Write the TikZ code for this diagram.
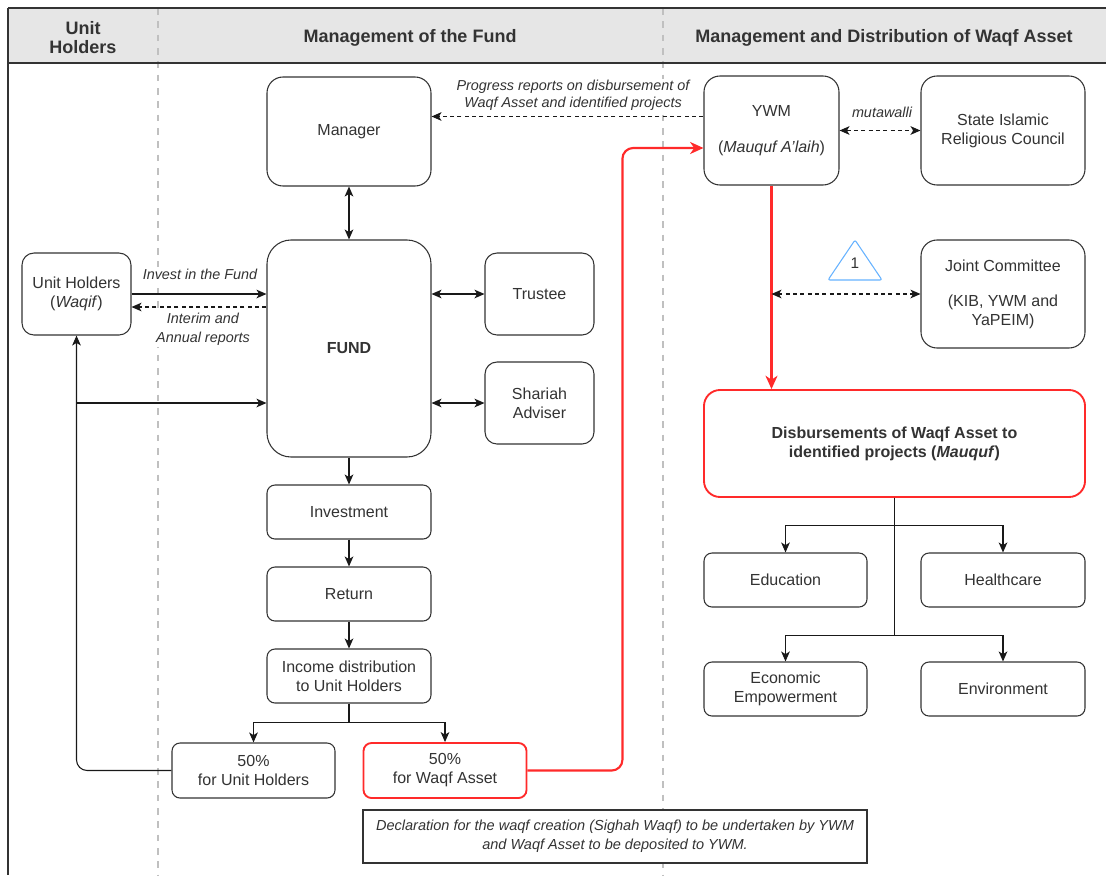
\documentclass[tikz,border=0pt]{standalone}
\usepackage{fontspec}
\setmainfont{Liberation Sans}
\usetikzlibrary{arrows.meta}
\usetikzlibrary{calc}
\definecolor{ink}{HTML}{333333}
\definecolor{hdgray}{HTML}{E6E6E6}
\definecolor{sepgray}{HTML}{C0C0C0}
\definecolor{wred}{HTML}{FF2A2A}
\definecolor{tblue}{HTML}{66B2FF}

\tikzset{
  box/.style={draw=ink, fill=white, line width=0.8pt, rounded corners=#1, align=center, text=ink,
    font=\fontsize{12}{14.25}\selectfont, inner sep=2pt},
  box/.default=6pt,
  redbox/.style={box=#1, draw=wred, line width=1.4pt},
  redbox/.default=6pt,
  lbl/.style={font=\fontsize{10.8}{13}\selectfont\itshape, text=ink, align=center, fill=white, inner sep=1pt},
  hd/.style={font=\fontsize{13.5}{14.5}\selectfont\bfseries, text=ink, align=center},
  conn/.style={draw=black!90, line width=0.8pt, -{Stealth[length=7.5pt,width=6.5pt,inset=2pt]}},
  both/.style={conn, {Stealth[length=7.5pt,width=6.5pt,inset=2pt]}-{Stealth[length=7.5pt,width=6.5pt,inset=2pt]}},
  dconn/.style={dash pattern=on 3pt off 2.5pt},
  rconn/.style={draw=wred, line width=1.6pt, rounded corners=8pt, -{Stealth[length=10pt,width=9pt,inset=3pt]}},
  sep/.style={draw=sepgray, line width=1.3pt, dash pattern=on 5pt off 5pt}
}

\begin{document}
\begin{tikzpicture}[x=0.75pt,y=-0.75pt]
\useasboundingbox (0,0) rectangle (1106,875);
\fill[hdgray] (8,8) rectangle (1106,63);
\draw[sep] (158,8) -- (158,875);
\draw[sep] (663,8) -- (663,875);
\draw[ink, line width=1.5pt] (8,8) -- (1106,8);
\draw[ink, line width=1.1pt] (8,63) -- (1106,63);
\draw[ink, line width=1pt] (8,8) -- (8,875);

\node[hd] (hdunit) at (83,37.5) {Unit\\Holders};
\node[hd] (hdfund) at (410,38) {Management of the Fund};
\node[hd] (hdwaqf) at (884,38) {Management and Distribution of Waqf Asset};

\node[box=12pt, minimum width=123pt, minimum height=81.75pt] (manager) at (349,131.5) {Manager};
\node[box=18pt, minimum width=123pt, minimum height=162.75pt] (fund) at (349,348.5) {\textbf{FUND}};
\node[box=9pt, minimum width=81.75pt, minimum height=61.5pt] (trustee) at (539.5,294) {Trustee};
\node[box=9pt, minimum width=81.75pt, minimum height=61.5pt] (shariah) at (539.5,403) {Shariah\\Adviser};
\node[box=9pt, minimum width=81.75pt, minimum height=61.5pt] (holders) at (76.5,294) {Unit Holders\\(\textit{Waqif})};
\node[box, minimum width=123pt, minimum height=40.5pt] (invest) at (349,512) {Investment};
\node[box, minimum width=123pt, minimum height=40.5pt] (return) at (349,594) {Return};
\node[box, minimum width=123pt, minimum height=40.5pt] (income) at (349,676) {Income distribution\\to Unit Holders};
\node[box, minimum width=122.25pt, minimum height=41.25pt] (halfuh) at (253.5,770.5) {50\%\\for Unit Holders};
\node[redbox, minimum width=122.25pt, minimum height=41.25pt] (halfwa) at (445,770.5) {50\%\\for Waqf Asset};
\node[lbl, draw=ink, line width=0.8pt, minimum width=378pt, minimum height=39.75pt, font=\fontsize{10.9}{14}\selectfont\itshape] (decl) at (615,836.5)
  {Declaration for the waqf creation (Sighah Waqf) to be undertaken by YWM\\and Waqf Asset to be deposited to YWM.};

\node[box=12pt, minimum width=101.25pt, minimum height=81.75pt] (ywm) at (771.5,130.5) {YWM\\[12.75pt](\textit{Mauquf A'laih})};
\node[box=12pt, minimum width=123pt, minimum height=81.75pt] (sirc) at (1003,130.5) {State Islamic\\Religious Council};
\node[box=12pt, minimum width=123pt, minimum height=81pt] (joint) at (1003,294) {Joint Committee\\[12pt](KIB, YWM and\\YaPEIM)};
\node[redbox=12pt, minimum width=285.75pt, minimum height=80.25pt] (disb) at (894.5,443.5)
  {\textbf{Disbursements of Waqf Asset to}\\\textbf{identified projects (\textit{Mauquf})}};
\node[box, minimum width=122.25pt, minimum height=40.5pt] (edu) at (785.5,580) {Education};
\node[box, minimum width=123pt, minimum height=40.5pt] (health) at (1003,580) {Healthcare};
\node[box, minimum width=122.25pt, minimum height=40.5pt] (econ) at (785.5,689) {Economic\\Empowerment};
\node[box, minimum width=123pt, minimum height=40.5pt] (env) at (1003,689) {Environment};

\draw[tblue, line width=0.8pt, rounded corners=1.5pt] (828,280) -- (855,240) -- (882,280) -- cycle;
\node[text=ink, font=\fontsize{11.5}{13}\selectfont] (tri) at (855,263) {1};

\node[lbl] (lblinvest) at (200,274) {Invest in the Fund};
\node[lbl, font=\fontsize{10.8}{14.25}\selectfont\itshape] (lblreport) at (203,329.5) {Interim and\\Annual reports};
\node[lbl, font=\fontsize{10.8}{12.75}\selectfont\itshape] (lblprog) at (573,95.5) {Progress reports on disbursement of\\Waqf Asset and identified projects};
\node[lbl] (lblmuta) at (882,112) {mutawalli};

\coordinate (rep) at ($(holders.east)+(0,13)$);
\coordinate (prog) at ($(ywm.west)+(0,-14)$);
\coordinate (ywmin) at ($(ywm.west)+(0,17.5)$);

\draw[both] (manager) -- (fund);
\draw[conn] (holders.east) -- (holders.east -| fund.west);
\draw[conn, dconn] (rep -| fund.west) -- (rep);
\draw[both] (fund.east |- trustee) -- (trustee.west);
\draw[both] (fund.east |- shariah) -- (shariah.west);
\draw[conn] (fund) -- (invest);
\draw[conn] (invest) -- (return);
\draw[conn] (return) -- (income);
\draw[conn] (income.south) -- ++(0,19) -| (halfuh.north);
\draw[conn] (income.south) -- ++(0,19) -| (halfwa.north);
\draw[conn, rounded corners=8pt] (halfuh.west) -| (holders.south);
\draw[conn] (holders.south |- shariah) -- (fund.west |- shariah);
\draw[rconn] (halfwa.east) -- ++(95,0) |- (ywmin);

\draw[conn, dconn] (prog) -- (prog -| manager.east);
\draw[both, dconn] (ywm.east) -- (sirc.west);
\draw[rconn] (ywm.south) -- (ywm.south |- disb.north);
\draw[both, dconn] (ywm.south |- joint.west) -- (joint.west);
\draw[conn] (disb.south) -- ++(0,28) -| (edu.north);
\draw[conn] (disb.south) -- ++(0,28) -| (health.north);
\draw[conn] (disb.south) -- ++(0,138) -| (econ.north);
\draw[conn] (disb.south) -- ++(0,138) -| (env.north);

\end{tikzpicture}
\end{document}
